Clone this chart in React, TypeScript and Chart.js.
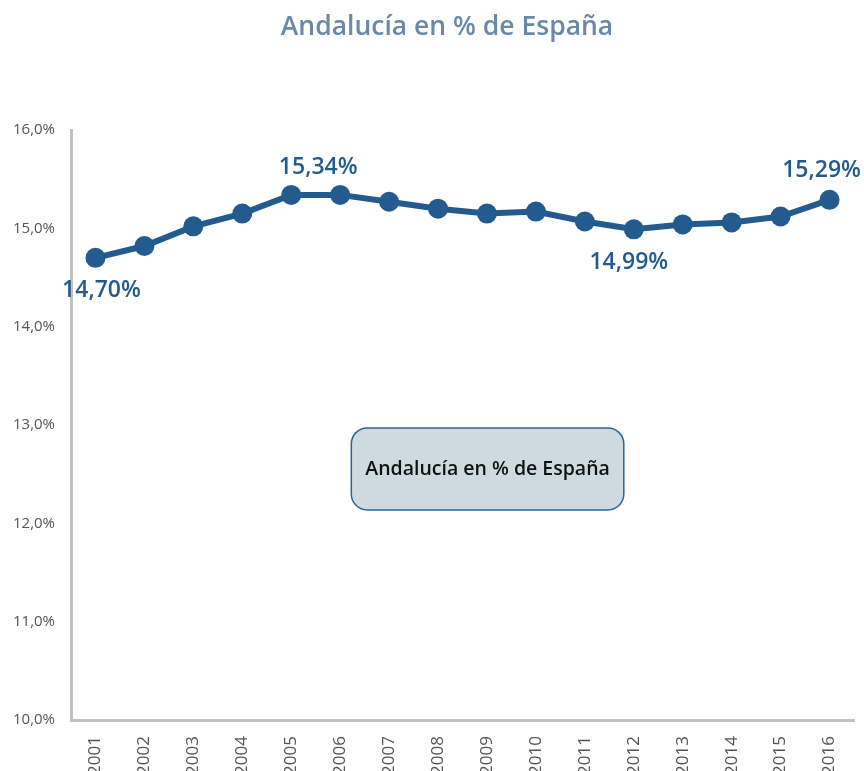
import React, { useEffect, useRef } from "react";
import { Chart, registerables } from "chart.js";

Chart.register(...registerables);

const years = ["2001","2002","2003","2004","2005","2006","2007","2008","2009","2010","2011","2012","2013","2014","2015","2016"];
const shares = [14.70, 14.82, 15.02, 15.15, 15.34, 15.34, 15.27, 15.20, 15.15, 15.17, 15.07, 14.99, 15.04, 15.06, 15.12, 15.29];
const labelledIndexes = [0, 4, 11, 15];
const labelTexts = ["14,70%", "15,34%", "14,99%", "15,29%"];
// offsets of label centers from the point (style only)
const labelOffsets = [[6, 33], [27, -27], [-5, 33], [-8, -29]];
const title = "Andalucía en % de España";
const boxText = "Andalucía en % de España";

const FONT = "'Open Sans', 'Noto Sans', sans-serif";
const LINE = "#245b8e";

const extras = {
  id: "extras",
  afterDraw(chart: any) {
    const ctx = chart.ctx;
    const ca = chart.chartArea;
    ctx.save();
    // title
    ctx.fillStyle = "#6a89a9";
    ctx.font = `600 26.5px ${FONT}`;
    ctx.textAlign = "center";
    ctx.textBaseline = "middle";
    ctx.fillText(title, chart.width / 2 + 15, 27);

    // data labels
    const meta = chart.getDatasetMeta(0);
    ctx.fillStyle = LINE;
    ctx.font = `600 23px ${FONT}`;
    labelledIndexes.forEach((idx, k) => {
      const p = meta.data[idx];
      ctx.fillText(labelTexts[k], p.x + labelOffsets[k][0], p.y + labelOffsets[k][1]);
    });

    // legend-like box
    const w = ca.right - ca.left;
    const h = ca.bottom - ca.top;
    const x0 = ca.left + w * 0.358;
    const x1 = ca.left + w * 0.706;
    const y0 = ca.top + h * 0.505;
    const y1 = ca.top + h * 0.644;
    const r = 16;
    ctx.beginPath();
    ctx.moveTo(x0 + r, y0);
    ctx.lineTo(x1 - r, y0);
    ctx.arcTo(x1, y0, x1, y0 + r, r);
    ctx.lineTo(x1, y1 - r);
    ctx.arcTo(x1, y1, x1 - r, y1, r);
    ctx.lineTo(x0 + r, y1);
    ctx.arcTo(x0, y1, x0, y1 - r, r);
    ctx.lineTo(x0, y0 + r);
    ctx.arcTo(x0, y0, x0 + r, y0, r);
    ctx.closePath();
    ctx.fillStyle = "#cddbe0";
    ctx.fill();
    ctx.lineWidth = 1.5;
    ctx.strokeStyle = "#2f6296";
    ctx.stroke();
    ctx.fillStyle = "#111111";
    ctx.font = `600 19.5px ${FONT}`;
    ctx.fillText(boxText, (x0 + x1) / 2, (y0 + y1) / 2);
    ctx.restore();
  },
};

export default function App() {
  const ref = useRef<HTMLCanvasElement>(null);
  useEffect(() => {
    document.body.style.margin = "0";
    const chart = new Chart(ref.current!, {
      type: "line",
      data: {
        labels: years,
        datasets: [
          {
            data: shares,
            borderColor: LINE,
            backgroundColor: LINE,
            borderWidth: 6,
            pointRadius: 10,
            pointHoverRadius: 10,
            pointBackgroundColor: LINE,
            pointBorderColor: LINE,
            pointBorderWidth: 0,
            tension: 0,
          },
        ],
      },
      options: {
        responsive: false,
        animation: false,
        layout: { padding: { top: 130, right: 8, left: 0, bottom: 0 } },
        plugins: { legend: { display: false }, title: { display: false }, tooltip: { enabled: false } },
        scales: {
          x: {
            offset: true,
            grid: { display: false, drawTicks: false },
            border: { display: true, color: "#c2c2c2", width: 3 },
            ticks: {
              minRotation: 90,
              maxRotation: 90,
              padding: 16,
              color: "#555555",
              font: { family: FONT, size: 17 },
            },
            afterFit: (s: any) => { s.height = 51; s.paddingLeft = 0; s.paddingRight = 0; },
          },
          y: {
            min: 10,
            max: 16,
            grid: { display: false, drawTicks: false },
            border: { display: true, color: "#c2c2c2", width: 3 },
            ticks: {
              stepSize: 1,
              padding: 16,
              color: "#555555",
              font: { family: FONT, size: 15 },
              callback: (v: any) => Number(v).toFixed(1).replace(".", ",") + "%",
            },
            afterFit: (s: any) => { s.width = 71; },
          },
        },
      },
      plugins: [extras],
    });
    return () => chart.destroy();
  }, []);
  return (
    <div style={{ width: 864, height: 771 }}>
      <canvas ref={ref} width={864} height={771} />
    </div>
  );
}
